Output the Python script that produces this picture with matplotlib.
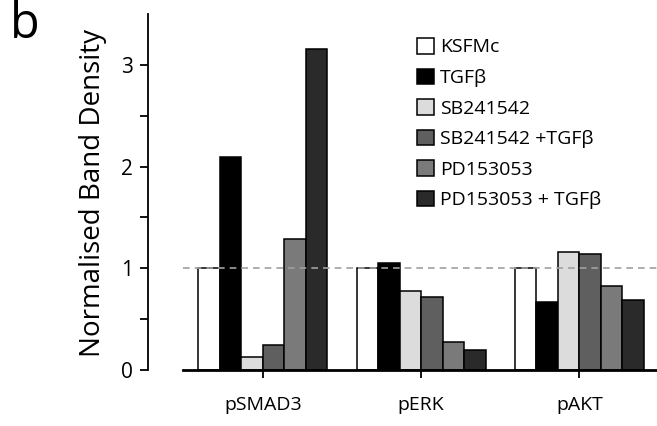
import numpy as np
import matplotlib
matplotlib.use("Agg")
import matplotlib.pyplot as plt
from matplotlib.patches import Patch

targets = ["pSMAD3", "pERK", "pAKT"]
treatments = ["KSFMc", "TGF\u03b2", "SB241542", "SB241542 +TGF\u03b2",
              "PD153053", "PD153053 + TGF\u03b2"]
colours = ["#ffffff", "#000000", "#dcdcdc", "#5f5f5f", "#7a7a7a", "#2a2a2a"]

ksfmc = [1.00, 1.00, 1.00]
tgfb = [2.09, 1.05, 0.67]
sb = [0.13, 0.775, 1.16]
sb_tgfb = [0.245, 0.72, 1.14]
pd = [1.29, 0.275, 0.83]
pd_tgfb = [3.16, 0.20, 0.69]
series = [ksfmc, tgfb, sb, sb_tgfb, pd, pd_tgfb]

plt.rcParams['font.family'] = ['Open Sans', 'DejaVu Sans']

fig = plt.figure(figsize=(6.57, 4.26), dpi=100)
ax = fig.add_axes([183 / 657, 1 - 370 / 426, 1 - 183 / 657, 356 / 426])

x = np.arange(len(targets))
w = 0.136
for i, vals in enumerate(series):
    ax.bar(x + (i - 2.5) * w, vals, w, color=colours[i], edgecolor="black",
           linewidth=1.1, zorder=2)

ax.axhline(1, ls=(0, (4, 3)), color="#a0a0a0", lw=1.2, zorder=3)

ax.set_xlim(-0.505, 2.49)
ax.set_ylim(0, 3.5)
ax.spines["top"].set_visible(False)
ax.spines["right"].set_visible(False)
ax.spines["left"].set_position(("outward", 25))
ax.spines["left"].set_linewidth(1.3)
ax.spines["bottom"].set_linewidth(2)

ax.set_yticks([0, 1, 2, 3])
ax.set_yticks([0.5, 1.5, 2.5], minor=True)
ax.tick_params(axis="y", which="both", length=6, width=1.3, labelsize=15, pad=5)
ax.set_xticks(x)
ax.set_xticklabels(targets)
ax.tick_params(axis="x", length=6, width=1.3, labelsize=14, pad=13)

fig.text(93 / 657, 1 - 193 / 426, "Normalised Band Density", rotation=90,
         ha="center", va="center", fontsize=20)
fig.text(10 / 657, 1 - 0 / 426, "b", ha="left", va="top", fontsize=35)

handles = [Patch(facecolor=c, edgecolor="black", linewidth=1.1) for c in colours]
fig.legend(handles, treatments, loc="upper left",
           bbox_to_anchor=(417 / 657, 1 - 38 / 426), frameon=False,
           fontsize=14, handlelength=0.85, handleheight=0.85,
           handletextpad=0.35, labelspacing=0.62, borderpad=0,
           borderaxespad=0)

fig.savefig("out.png", dpi=100)
